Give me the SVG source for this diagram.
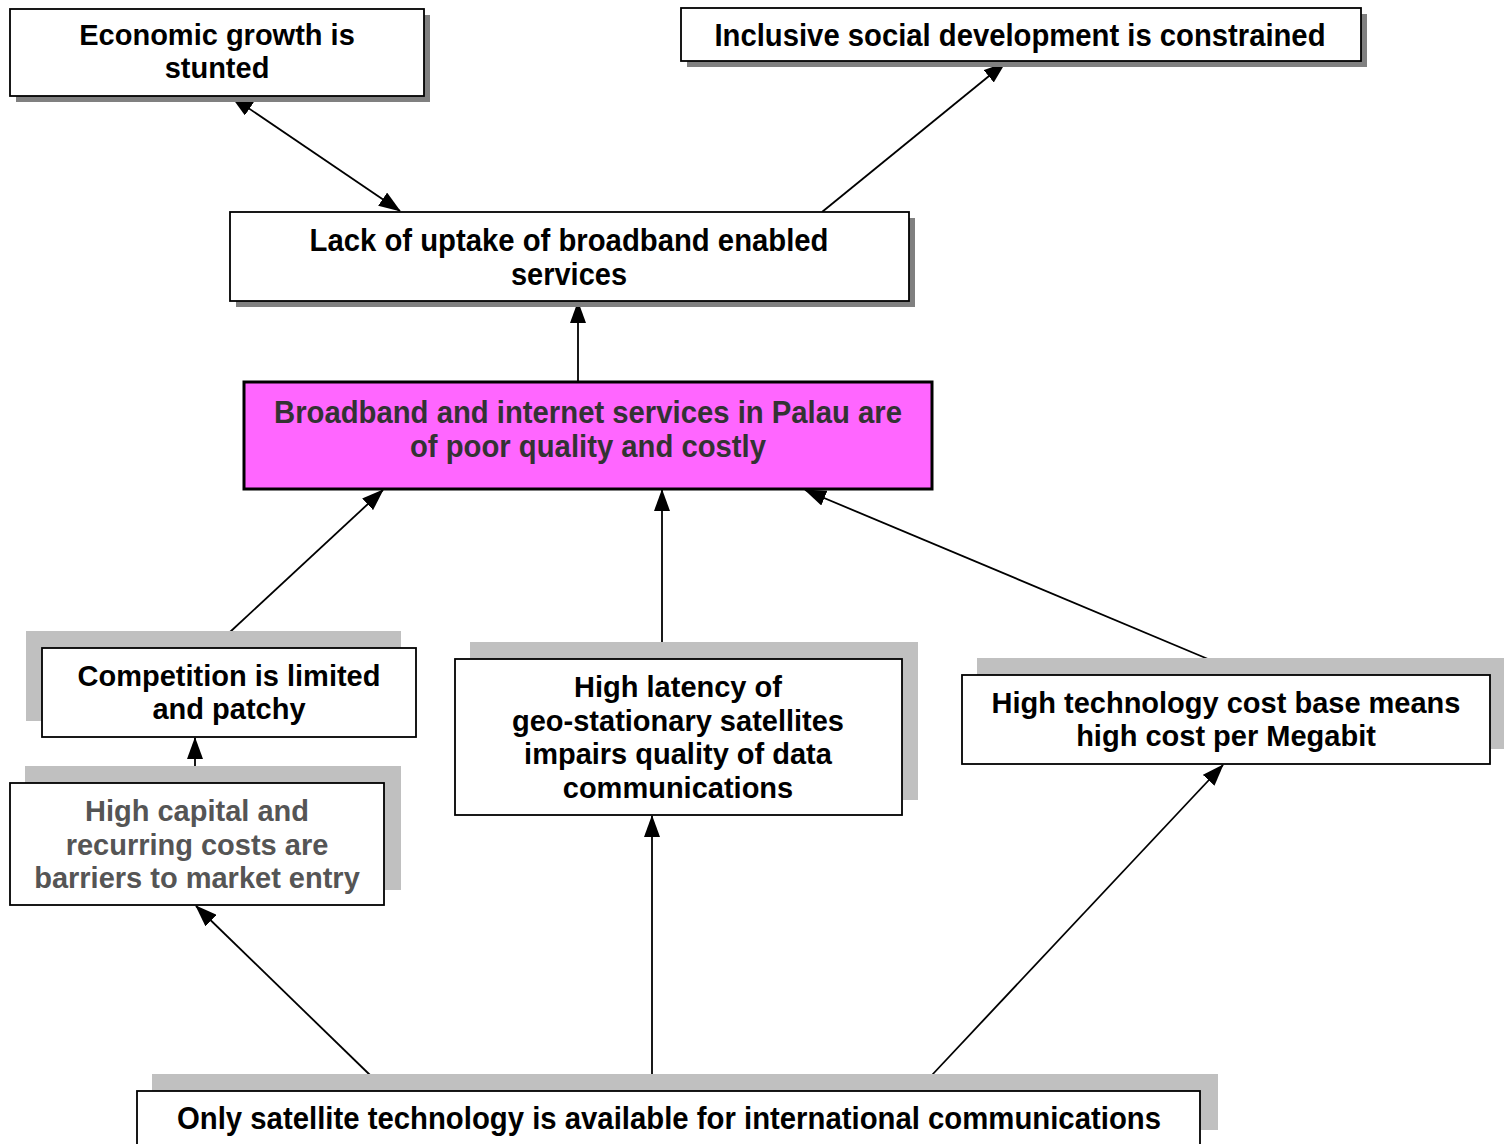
<svg xmlns="http://www.w3.org/2000/svg" width="1504" height="1144" viewBox="0 0 1504 1144">
<defs>
<style>
.box{fill:#ffffff;stroke:#000000;stroke-width:1.8}
.sd{fill:#808080}
.sl{fill:#c0c0c0}
.pink{fill:#ff66ff;stroke:#000000;stroke-width:3}
text{font-family:"Liberation Sans",Arial,sans-serif;font-weight:bold;font-size:29px;text-anchor:middle;fill:#000000}
.cn{font-size:31px}
.dk{fill:#333333}
.gr{fill:#555555}
.c line{stroke:#000000;stroke-width:1.8;fill:none}
</style>
<marker id="ah" viewBox="0 0 22 16" refX="21" refY="8" markerWidth="22" markerHeight="16" markerUnits="userSpaceOnUse" orient="auto-start-reverse">
<path d="M0,0 L22,8 L0,16 Z" fill="#000000"/>
</marker>
</defs>
<rect width="1504" height="1144" fill="#ffffff"/>

<g id="connectors" class="c">
<line x1="400" y1="211" x2="232" y2="97" marker-start="url(#ah)" marker-end="url(#ah)"/>
<line x1="822" y1="212" x2="1005" y2="63" marker-end="url(#ah)"/>
<line x1="578" y1="382" x2="578" y2="302" marker-end="url(#ah)"/>
<line x1="230" y1="632" x2="383" y2="490" marker-end="url(#ah)"/>
<line x1="662" y1="642" x2="662" y2="490" marker-end="url(#ah)"/>
<line x1="1208" y1="659" x2="805" y2="490" marker-end="url(#ah)"/>
<line x1="195" y1="783" x2="195" y2="738" marker-end="url(#ah)"/>
<line x1="370" y1="1075" x2="196" y2="906" marker-end="url(#ah)"/>
<line x1="652" y1="1075" x2="652" y2="816" marker-end="url(#ah)"/>
<line x1="932" y1="1075" x2="1223" y2="765" marker-end="url(#ah)"/>
</g>

<g id="economic">
<rect class="sd" x="16" y="15" width="414" height="87"/>
<rect class="box" x="10" y="9" width="414" height="87"/>
<text x="217" y="45">Economic growth is</text>
<text x="217" y="78">stunted</text>
</g>

<g id="inclusive">
<rect class="sd" x="687" y="14" width="680" height="53"/>
<rect class="box" x="681" y="8" width="680" height="53"/>
<text class="cn" x="1020" y="46" textLength="611" lengthAdjust="spacingAndGlyphs">Inclusive social development is constrained</text>
</g>

<g id="lack">
<rect class="sd" x="236" y="218" width="679" height="89"/>
<rect class="box" x="230" y="212" width="679" height="89"/>
<text class="cn" x="569" y="251" textLength="519" lengthAdjust="spacingAndGlyphs">Lack of uptake of broadband enabled</text>
<text class="cn" x="569" y="285" textLength="116" lengthAdjust="spacingAndGlyphs">services</text>
</g>

<g id="core">
<rect class="pink" x="244" y="382" width="688" height="107"/>
<text class="dk cn" x="588" y="423" textLength="628" lengthAdjust="spacingAndGlyphs">Broadband and internet services in Palau are</text>
<text class="dk cn" x="588" y="457" textLength="356" lengthAdjust="spacingAndGlyphs">of poor quality and costly</text>
</g>

<g id="competition">
<rect class="sl" x="26" y="631" width="375" height="90"/>
<rect class="box" x="42" y="648" width="374" height="89"/>
<text x="229" y="686">Competition is limited</text>
<text x="229" y="719">and patchy</text>
</g>

<g id="capital">
<rect class="sl" x="25" y="766" width="376" height="124"/>
<rect class="box" x="10" y="783" width="374" height="122"/>
<text class="gr" x="197" y="821">High capital and</text>
<text class="gr" x="197" y="855">recurring costs are</text>
<text class="gr" x="197" y="888">barriers to market entry</text>
</g>

<g id="latency">
<rect class="sl" x="470" y="642" width="448" height="158"/>
<rect class="box" x="455" y="659" width="447" height="156"/>
<text x="678" y="697">High latency of</text>
<text x="678" y="731">geo-stationary satellites</text>
<text x="678" y="764">impairs quality of data</text>
<text x="678" y="798">communications</text>
</g>

<g id="techcost">
<rect class="sl" x="977" y="658" width="530" height="91"/>
<rect class="box" x="962" y="675" width="528" height="89"/>
<text x="1226" y="713">High technology cost base means</text>
<text x="1226" y="746">high cost per Megabit</text>
</g>

<g id="satellite">
<rect class="sl" x="152" y="1074" width="1066" height="56"/>
<rect class="box" x="137" y="1091" width="1063" height="70"/>
<text class="cn" x="669" y="1129" textLength="984" lengthAdjust="spacingAndGlyphs">Only satellite technology is available for international communications</text>
</g>
</svg>
